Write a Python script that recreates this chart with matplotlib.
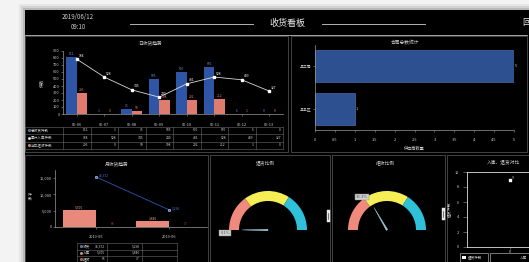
import numpy as np
import matplotlib.pyplot as plt
from matplotlib.patches import Rectangle, Wedge, Polygon

plt.rcParams['font.family'] = ['Noto Sans CJK SC', 'DejaVu Sans']

W, H = 529, 262

# 日收货趋势
days = ['06-06', '06-07', '06-08', '06-09', '06-10', '06-11', '06-12', '06-13']
day_received = [811, 1, 75, 505, 606, 670, 6, 0]
day_stock = [784, 528, 345, 240, 431, 528, 489, 327]
day_reject = [296, 0, 50, 198, 202, 212, 1, 0]
day_rows = ['总收货件数', '累计入库件数', '当日拒收件数']

# 合同总数统计 (从下到上)
companies = ['某某区', '某三局']
contract_counts = [1, 5]

# 月收货趋势
months = ['2019-05', '2019-06']
month_received = [15372, 5290]
month_stock = [5305, 1846]
month_reject = [65, 37]
month_rows = ['收货', '入库', '拒收']

# 比例仪表
gauge_titles = ['退货比例', '拒收比例']
gauge_values = [0.001, 0.333]
gauge_bounds = [0.3, 0.68]

# 入库、退货对比
cmp_x = [0]
cmp_y = [9]

BLUE = '#2f56a6'
RED = '#e07b6e'
PINK = '#e8897c'
TXT = '#d0d0d0'
EDGE = '#4c4c4c'


def box(x0, y0, x1, y1):
    return [x0 / W, 1 - y1 / H, (x1 - x0) / W, (y1 - y0) / H]


def style(ax, fs=2.8):
    ax.set_facecolor('none')
    for s in ax.spines.values():
        s.set_color('#9a9a9a')
        s.set_linewidth(0.5)
    ax.tick_params(colors='#9a9a9a', labelcolor=TXT, labelsize=fs,
                   width=0.4, length=1.5, pad=1)


fig = plt.figure(figsize=(W / 100, H / 100), dpi=100, facecolor='#f3f3f3')
bg = fig.add_axes([0, 0, 1, 1])
bg.set_xlim(0, W)
bg.set_ylim(H, 0)
bg.axis('off')

# 阴影和黑色底板
for k, a in [(6, 0.05), (4, 0.08), (2, 0.12)]:
    bg.add_patch(Rectangle((25 - k, 10 - k), W, H, color='#000000', alpha=a, lw=0))
bg.add_patch(Rectangle((25, 10), W, H, color='#000000', lw=0))

# 面板边框
panels = [(25, 36, 288, 152), (291, 36, 527, 152), (25, 155, 208, 270),
          (210, 155, 330, 270), (332, 155, 445, 270), (447, 155, 540, 270)]
for x0, y0, x1, y1 in panels:
    bg.add_patch(Rectangle((x0, y0), x1 - x0, y1 - y0, fill=False,
                           edgecolor=EDGE, lw=0.6))
bg.plot([25, 527], [35, 35], color='#bdbdbd', lw=0.6)

# 标题栏
bg.text(78, 17, '2019/06/12', color=TXT, fontsize=4.4, ha='center', va='center')
bg.text(78, 27, '09:10', color=TXT, fontsize=4.4, ha='center', va='center')
bg.text(287, 23, '收货看板', color='#eeeeee', fontsize=6.5, ha='center', va='center')
bg.plot([130, 253], [24, 24], color='#cfcfcf', lw=0.6)
bg.plot([322, 425], [24, 24], color='#cfcfcf', lw=0.6)
bg.text(522, 23, '回', color='#eeeeee', fontsize=6, ha='left', va='center')

# 面板标题
for x, y, t in [(150, 43, '日收货趋势'), (405, 43, '合同总数统计'),
                (117, 164, '月收货趋势'), (265, 163, gauge_titles[0]),
                (385, 163, gauge_titles[1]), (503, 163, '入库、退货对比')]:
    bg.text(x, y, t, color=TXT, fontsize=3.4, ha='center', va='center')

# ---- 日收货趋势 ----
ax1 = fig.add_axes(box(63, 51, 283, 114))
style(ax1)
x = np.arange(len(days))
bw = 0.38
ax1.bar(x - bw / 2, day_received, bw, color=BLUE)
ax1.bar(x + bw / 2, day_reject, bw, color=RED)
ax1.plot(x, day_stock, color='#d8d8d8', lw=0.6, marker='s', ms=1.6,
         mfc='white', mec='white')
for i in range(len(days)):
    ax1.text(x[i] - bw / 2, day_received[i] + 12, str(day_received[i]),
             ha='center', va='bottom', fontsize=2.4, color='#6f8fd8')
    ax1.text(x[i] + bw / 2, day_reject[i] + 12, str(day_reject[i]),
             ha='center', va='bottom', fontsize=2.4, color=RED)
    ax1.annotate(str(day_stock[i]), (x[i], day_stock[i]), xytext=(1.5, 1),
                 textcoords='offset points', fontsize=2.4, color='white',
                 va='bottom')
ax1.set_xlim(-0.5, len(days) - 0.5)
ax1.set_ylim(0, 900)
ax1.set_yticks(range(0, 901, 100))
ax1.set_xticks(x)
ax1.set_xticklabels(days)
ax1.tick_params(axis='x', pad=5)
ax1.spines['top'].set_visible(False)
ax1.spines['right'].set_visible(False)
ax1.set_ylabel('件数', color=TXT, fontsize=3, labelpad=6)

# 日数据表
rows_y = [126.5, 134, 141.5, 149]
cols_x = [25, 63] + [63 + 27.5 * (k + 1) for k in range(len(days))]
for yy in rows_y:
    bg.plot([25, 283], [yy, yy], color='#6a6a6a', lw=0.4)
for xx in cols_x:
    bg.plot([xx, xx], [rows_y[0], rows_y[-1]], color='#6a6a6a', lw=0.4)
for r, (name, vals, c) in enumerate(zip(day_rows, [day_received, day_stock, day_reject],
                                        [BLUE, 'white', RED])):
    yc = (rows_y[r] + rows_y[r + 1]) / 2
    bg.scatter([28.5], [yc], s=3, color=c, edgecolors='white', linewidths=0.2)
    bg.text(31, yc, name, color=TXT, fontsize=2.6, va='center')
    for k, v in enumerate(vals):
        bg.text(cols_x[k + 2] - 2, yc, str(v), color=TXT, fontsize=2.4,
                ha='right', va='center')

# ---- 合同总数统计 ----
ax2 = fig.add_axes(box(315, 45, 514, 130))
style(ax2)
ax2.barh(range(len(companies)), contract_counts, height=0.76, color='#2c5090',
         edgecolor='#5a7ab8', lw=0.4)
for i, v in enumerate(contract_counts):
    ax2.text(v + 0.03, i, str(v), color=TXT, fontsize=2.8, va='center')
ax2.set_xlim(0, 5)
ax2.set_ylim(-0.5, 1.5)
ticks = np.arange(0, 5.01, 0.5)
ax2.set_xticks(ticks)
ax2.set_xticklabels(['%g' % t for t in ticks])
ax2.set_yticks(range(len(companies)))
ax2.set_yticklabels(companies)
ax2.tick_params(axis='x', pad=4)
ax2.spines['top'].set_visible(False)
ax2.spines['right'].set_visible(False)
ax2.set_xlabel('供应商数量', color=TXT, fontsize=3, labelpad=3)

# ---- 月收货趋势 ----
ax3 = fig.add_axes(box(55, 170, 207, 227))
style(ax3)
mx = np.arange(len(months))
mw = 0.45
ax3.bar(mx - mw / 2, month_stock, mw, color=PINK)
ax3.bar(mx + mw / 2, month_reject, mw, color='#d83a3a')
ax3.plot(mx, month_received, color='#2a4a9a', lw=0.7, marker='o', ms=1.8,
         mfc='#3a62c8', mec='white', mew=0.3)
for i in range(len(months)):
    ax3.text(mx[i] - mw / 2, month_stock[i] + 250, format(month_stock[i], ','),
             ha='center', va='bottom', fontsize=2.4, color='#f0a090')
    ax3.text(mx[i] + mw / 2, month_reject[i] + 250, str(month_reject[i]),
             ha='center', va='bottom', fontsize=2.4, color='#d83a3a')
    ax3.annotate(format(month_received[i], ','), (mx[i], month_received[i]),
                 xytext=(2, 0.5), textcoords='offset points', fontsize=2.4,
                 color='#4a72d8')
ax3.set_xlim(-0.56, 1.52)
ax3.set_ylim(0, 17500)
ax3.set_yticks([0, 5000, 10000, 15000])
ax3.set_yticklabels([format(t, ',') for t in [0, 5000, 10000, 15000]])
ax3.set_xticks(mx)
ax3.set_xticklabels(months)
ax3.tick_params(axis='x', pad=4)
ax3.spines['top'].set_visible(False)
ax3.spines['right'].set_visible(False)
bg.text(30, 197, '件\n数', color=TXT, fontsize=2.8, ha='center', va='center',
        linespacing=1.0)

# 月数据表
mrows_y = [242.5, 249.5, 256, 262.5]
mcols_x = [77, 107, 142, 177]
for yy in mrows_y:
    bg.plot([77, 177], [yy, yy], color='#6a6a6a', lw=0.4)
for xx in mcols_x:
    bg.plot([xx, xx], [mrows_y[0], mrows_y[-1]], color='#6a6a6a', lw=0.4)
for r, (name, vals, c) in enumerate(zip(month_rows,
                                        [month_received, month_stock, month_reject],
                                        ['#3a62c8', PINK, '#d83a3a'])):
    yc = (mrows_y[r] + mrows_y[r + 1]) / 2
    bg.scatter([80.5], [yc], s=3, color=c, edgecolors='white', linewidths=0.2)
    bg.text(83, yc, name, color=TXT, fontsize=2.6, va='center')
    for k, v in enumerate(vals):
        bg.text(mcols_x[k + 1] - 2, yc, format(v, ','), color=TXT, fontsize=2.4,
                ha='right', va='center')

# ---- 仪表 ----
seg_colors = ['#f08a7c', '#f5ef55', '#2fc0da']
for (cx, cy), val in zip([(268, 230), (387, 230)], gauge_values):
    edges = [0] + gauge_bounds + [1]
    for k in range(3):
        a = 180 - 180 * edges[k]
        b = 180 - 180 * edges[k + 1]
        bg.add_patch(Wedge((cx, cy), 39, -a, -b, width=10, color=seg_colors[k], lw=0))
    ang = np.radians(180 - 180 * val)
    tip = (cx + 26 * np.cos(ang), cy - 26 * np.sin(ang))
    nx, ny = -np.sin(ang) * 0.8, -np.cos(ang) * 0.8
    bg.add_patch(Polygon([(cx + nx, cy + ny), (cx - nx, cy - ny), tip],
                         color='#9ecbe0', lw=0.3))
    lx, ly = cx + 38 * np.cos(ang), cy - 38 * np.sin(ang) + (3 if val < 0.05 else 0)
    bg.text(lx, ly, '%.1f%%' % (val * 100), fontsize=3, color='#555555',
            ha='right', va='center',
            bbox=dict(boxstyle='square,pad=0.3', fc='#cfcfcf', ec='#888888', lw=0.3))

# 分隔滑块
for hx, hy in [(326.5, 210), (441.5, 208)]:
    bg.add_patch(Rectangle((hx, hy), 3.5, 12, fc='#e8e8e8', ec='#e8e8e8', lw=0.3))
    bg.plot([hx + 1.75, hx + 1.75], [hy + 3, hy + 9], color='#222222', lw=0.4)

# ---- 入库、退货对比 ----
ax4 = fig.add_axes(box(467, 172, 536, 247))
style(ax4)
for s in ax4.spines.values():
    s.set_color('#e0e0e0')
    s.set_linewidth(0.6)
ax4.scatter(cmp_x, cmp_y, s=2, color='white', marker='s')
for xv, yv in zip(cmp_x, cmp_y):
    ax4.annotate(str(yv), (xv, yv), xytext=(2, 0.5), textcoords='offset points',
                 fontsize=2.6, color=TXT)
ax4.set_xlim(-1, 0.62)
ax4.set_ylim(0, 10)
ax4.set_yticks(range(0, 11, 2))
ax4.set_xticks([0])
ax4.tick_params(axis='y', length=3, pad=3)
ax4.set_ylabel('退货件数', color=TXT, fontsize=2.8, labelpad=2)
bg.add_patch(Rectangle((460, 253), 28, 9, fill=False, ec='#cfcfcf', lw=0.4))
bg.add_patch(Rectangle((462, 255.5), 3.5, 3.5, color='white', lw=0))
bg.text(468, 257.5, '退货件数', color=TXT, fontsize=2.6, va='center')
bg.add_patch(Rectangle((490, 253), 45, 9, fill=False, ec='#cfcfcf', lw=0.4))
bg.text(527, 257.5, '入库', color=TXT, fontsize=2.6, va='center', ha='right')

fig.savefig('out.png', dpi=100, facecolor=fig.get_facecolor())
